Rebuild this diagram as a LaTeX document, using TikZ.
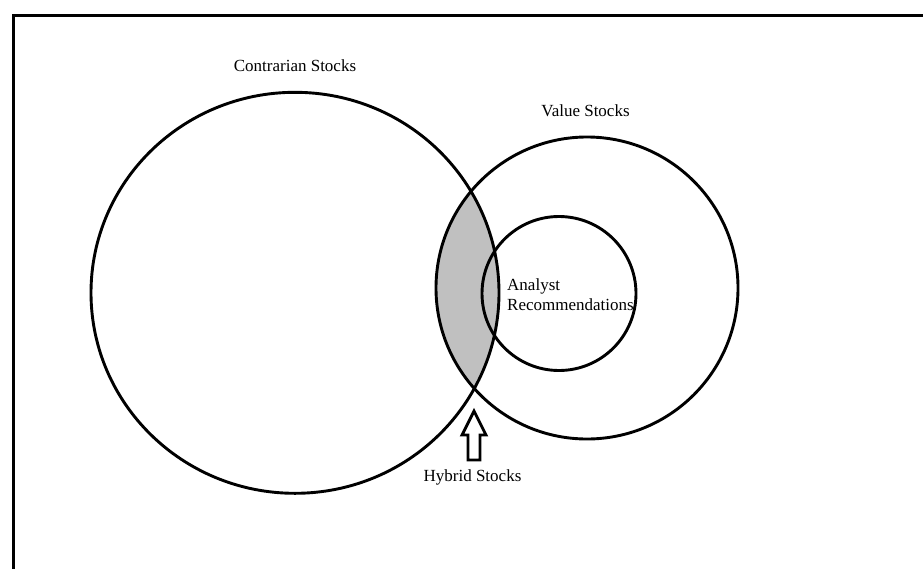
\documentclass[tikz,border=0pt]{standalone}
\usepackage{xcolor}
\usepackage{fontspec}
\setmainfont{Liberation Serif}
\usepackage{tikz}
\usetikzlibrary{positioning}

\definecolor{hybridgray}{HTML}{C0C0C0}

\tikzset{
    setline/.style={line width=2.9pt},
    setlabel/.style={font=\fontsize{17}{20}\selectfont, inner sep=0pt}
}

\begin{document}
\begin{tikzpicture}[x=1pt,y=-1pt]
                \useasboundingbox (0,0) rectangle (923,568);

                \coordinate (contrarian) at (295,292.8);
                \coordinate (value) at (587,288);
                \coordinate (analyst) at (559,293.5);

                % outer frame
                \draw[
                    line width=3pt
                ] (13.5,15) rectangle (930,575);

                % hybrid part
                \begin{scope}
                    \clip (contrarian) ellipse [x radius=204, y radius=200.5];
                    \fill[
                        hybridgray
                    ] (value) circle [radius=151];
                \end{scope}

                \draw[
                    setline
                ] (contrarian) ellipse [x radius=204, y radius=200.5];

                \draw[
                    setline
                ] (value) circle [radius=151];

                \draw[
                    setline
                ] (analyst) circle [radius=77];

                \node[setlabel, anchor=base] (contrarianlabel) at (295,71.7) {Contrarian Stocks};
                \node[setlabel, anchor=base] (valuelabel) at (585.5,116) {Value Stocks};
                \node[setlabel, anchor=base west] (analystlabel) at (507,290) {Analyst};
                \node[setlabel, anchor=base west] (recolabel) at (507,310.7) {Recommendations};
                \node[setlabel, anchor=base] (hybridlabel) at (472.5,481.7) {Hybrid Stocks};

                % hollow arrow
                \coordinate (tip) at (474,411);
                \draw[
                    line width=2.9pt,
                    line join=miter,
                    fill=white
                ] (tip) -- ++(12,24) -- ++(-6,0) -- ++(0,25) -- ++(-12,0)
                    -- ++(0,-25) -- ++(-6,0) -- cycle;

            \end{tikzpicture}
\end{document}
